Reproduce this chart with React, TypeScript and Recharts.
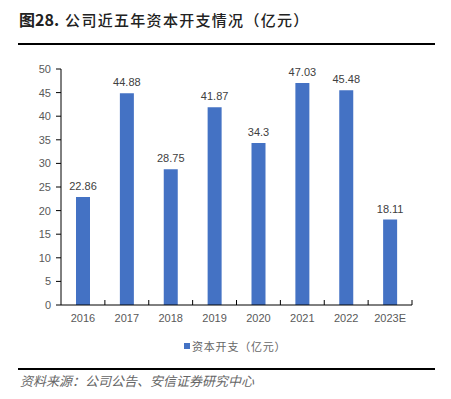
import React from "react";
import { BarChart, Bar, XAxis, YAxis, LabelList } from "recharts";

const categories = ["2016", "2017", "2018", "2019", "2020", "2021", "2022", "2023E"];
const capex = [22.86, 44.88, 28.75, 41.87, 34.3, 47.03, 45.48, 18.11];
const yTicks = [0, 5, 10, 15, 20, 25, 30, 35, 40, 45, 50];

const data = categories.map((c, i) => ({ year: c, capex: capex[i] }));

const BAR_COLOR = "#4472C4";
const FONT = "'Liberation Sans', Arial, sans-serif";
const CJK = "'Noto Sans CJK SC', sans-serif";

const XTick = (props: any) => {
  const { x, y, payload, index, visibleTicksCount } = props;
  const off = payload.offset || 0;
  const axisY = y - 8;
  const isLast = index === (visibleTicksCount ?? categories.length) - 1;
  return (
    <g>
      {index > 0 && (
        <line x1={x - off} x2={x - off} y1={axisY} y2={axisY - 5} stroke="#000" strokeWidth={1} />
      )}
      {isLast && (
        <line x1={x + off} x2={x + off} y1={axisY} y2={axisY - 5} stroke="#000" strokeWidth={1} />
      )}
      <text x={x} y={y + 9} textAnchor="middle" fontSize={11} fill="#595959" fontFamily={FONT}>
        {payload.value}
      </text>
    </g>
  );
};

export default function App() {
  return (
    <div style={{ position: "absolute", left: 0, top: 0, width: 451, height: 399, background: "#fff" }}>
      <div
        style={{
          position: "absolute",
          left: 19,
          top: 9,
          fontFamily: CJK,
          color: "#222",
          lineHeight: "20px",
          whiteSpace: "nowrap",
        }}
      >
        <span style={{ fontSize: 16, fontWeight: 700 }}>图28.</span>
        <span style={{ fontSize: 15, fontWeight: 500, letterSpacing: 1.3, marginLeft: 6 }}>
          公司近五年资本开支情况（亿元）
        </span>
      </div>
      <div style={{ position: "absolute", left: 18, top: 43, width: 417, height: 2, background: "#000" }} />
      <div style={{ position: "absolute", left: 0, top: 0 }}>
        <BarChart
          width={451}
          height={399}
          data={data}
          margin={{ top: 69, right: 39, left: 0, bottom: 64 }}
        >
          <YAxis
            width={61}
            domain={[0, 50]}
            ticks={yTicks}
            interval={0}
            tickSize={5}
            tickMargin={5}
            axisLine={{ stroke: "#000" }}
            tickLine={{ stroke: "#000" }}
            tick={{ fontSize: 11, fill: "#595959", fontFamily: FONT }}
          />
          <XAxis
            dataKey="year"
            height={30}
            interval={0}
            tickSize={0}
            tickMargin={8}
            tickLine={false}
            axisLine={{ stroke: "#000" }}
            tick={<XTick />}
          />
          <Bar dataKey="capex" fill={BAR_COLOR} barSize={14} isAnimationActive={false}>
            <LabelList
              dataKey="capex"
              position="top"
              offset={7}
              style={{ fontSize: 11, fill: "#404040", fontFamily: FONT }}
            />
          </Bar>
        </BarChart>
      </div>
      <div
        style={{
          position: "absolute",
          left: 184,
          top: 338,
          display: "flex",
          alignItems: "center",
          fontFamily: CJK,
          fontSize: 11,
          color: "#666",
          letterSpacing: 0.8,
          whiteSpace: "nowrap",
        }}
      >
        <span style={{ display: "inline-block", width: 6, height: 6, background: BAR_COLOR, marginRight: 2 }} />
        资本开支（亿元）
      </div>
      <div style={{ position: "absolute", left: 18, top: 368, width: 417, height: 2, background: "#000" }} />
      <div
        style={{
          position: "absolute",
          left: 20,
          top: 371,
          fontFamily: CJK,
          fontSize: 13,
          fontStyle: "italic",
          color: "#666",
          whiteSpace: "nowrap",
        }}
      >
        资料来源：公司公告、安信证券研究中心
      </div>
    </div>
  );
}
